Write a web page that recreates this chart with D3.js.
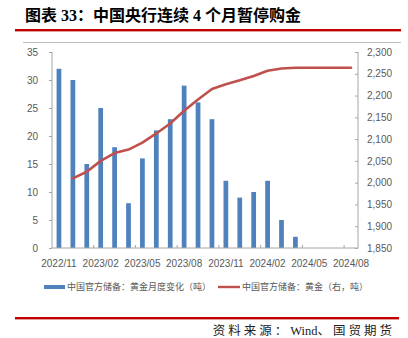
<!DOCTYPE html>
<html>
<head>
<meta charset="utf-8">
<script src="https://cdn.jsdelivr.net/npm/d3@7/dist/d3.min.js"></script>
<style>
  html, body { margin: 0; padding: 0; background: #fff; }
  svg { display: block; }
</style>
</head>
<body>
<svg id="chart" width="408" height="338"></svg>
<script>
// Months, Nov 2022 – Aug 2024
const months = ["2022/11","2022/12","2023/01","2023/02","2023/03","2023/04","2023/05","2023/06",
  "2023/07","2023/08","2023/09","2023/10","2023/11","2023/12","2024/01","2024/02",
  "2024/03","2024/04","2024/05","2024/06","2024/07","2024/08"];
// Monthly change in official gold holdings (tonnes)
const monthlyChange = [32,30,15,25,18,8,16,21,23,29,26,23,12,9,10,12,5,2,0,0,0,0];
// Total official gold holdings (tonnes); no value for the first month
const holdings = [null,2010,2025,2050,2068,2076,2092,2113,2136,2165,2191,2215,2226,2235,
  2245,2257,2262,2264,2264,2264,2264,2264];
const xTickLabels = ["2022/11","2023/02","2023/05","2023/08","2023/11","2024/02","2024/05","2024/08"];
const leftTicks = [0,5,10,15,20,25,30,35];
const rightTicks = [1850,1900,1950,2000,2050,2100,2150,2200,2250,2300];

const title = "图表 33：中国央行连续 4 个月暂停购金";
const legendBar = "中国官方储备：黄金月度变化（吨）";
const legendLine = "中国官方储备：黄金（右，吨）";
// Source line pieces: CJK parts are letter-spaced, the Latin word is not
const sourceParts = [["资料来源：", true], ["Wind", false], ["、国贸期货", true]];

const svg = d3.select("#chart");
const plot = { left: 52, right: 358, top: 52, bottom: 248 };
const BLUE = "#4F81BD", RED = "#C0504D", AXIS = "#A6A6A6", LABEL = "#595959";
const tickFont = "'Liberation Sans Narrow','Liberation Sans',Arial,sans-serif";

// Header
svg.append("text")
  .attr("x", 25).attr("y", 21)
  .attr("font-family", "'Liberation Serif','Noto Sans CJK SC',serif")
  .attr("font-weight", "bold").attr("font-size", 16).attr("fill", "#000")
  .text(title);
svg.append("rect").attr("x", 15).attr("y", 29).attr("width", 386).attr("height", 2.4).attr("fill", "#C00000");
svg.append("rect").attr("x", 23).attr("y", 42).attr("width", 378).attr("height", 1).attr("fill", "#BFBFBF");

// Scales
const x = d3.scaleBand().domain(months).range([plot.left, plot.right])
  .paddingInner(0.66).paddingOuter(0.33);
const yL = d3.scaleLinear().domain([0, 35]).range([plot.bottom, plot.top]);
const yR = d3.scaleLinear().domain([1850, 2300]).range([plot.bottom, plot.top]);

// Bars
svg.append("g").selectAll("rect")
  .data(months.map((m, i) => ({ m, v: monthlyChange[i] })).filter(d => d.v > 0))
  .join("rect")
  .attr("x", d => x(d.m)).attr("width", x.bandwidth())
  .attr("y", d => yL(d.v)).attr("height", d => yL(0) - yL(d.v))
  .attr("fill", BLUE);

// Holdings line
const lineData = months.map((m, i) => ({ m, v: holdings[i] })).filter(d => d.v != null);
svg.append("path")
  .datum(lineData)
  .attr("fill", "none").attr("stroke", RED).attr("stroke-width", 2.6)
  .attr("stroke-linejoin", "round").attr("stroke-linecap", "round")
  .attr("d", d3.line().x(d => x(d.m) + x.bandwidth() / 2).y(d => yR(d.v)));

// Left axis
const gL = svg.append("g").attr("transform", `translate(${plot.left},0)`)
  .call(d3.axisLeft(yL).tickValues(leftTicks).tickSize(3).tickPadding(11));
// Right axis
const gR = svg.append("g").attr("transform", `translate(${plot.right},0)`)
  .call(d3.axisRight(yR).tickValues(rightTicks).tickSize(-3).tickPadding(9).tickFormat(d3.format(",")));
[gL, gR].forEach(g => {
  g.select(".domain").attr("stroke", AXIS).attr("d", `M0,${plot.bottom}V${plot.top}`);
  g.selectAll(".tick line").attr("stroke", AXIS);
  g.selectAll(".tick text").attr("fill", LABEL).attr("font-family", tickFont).attr("font-size", 10);
});

// Bottom axis
const gX = svg.append("g");
gX.append("line").attr("x1", plot.left).attr("x2", plot.right)
  .attr("y1", plot.bottom).attr("y2", plot.bottom).attr("stroke", AXIS);
const gap = x.step() - x.bandwidth();
gX.selectAll("line.tk")
  .data(months.filter((m, i) => i > 0 && i % 3 === 0))
  .join("line").attr("class", "tk")
  .attr("x1", d => x(d) - gap / 2).attr("x2", d => x(d) - gap / 2)
  .attr("y1", plot.bottom).attr("y2", plot.bottom - 3).attr("stroke", AXIS);
gX.selectAll("text")
  .data(xTickLabels)
  .join("text")
  .attr("x", d => x(d) + x.bandwidth() / 2).attr("y", 266.5)
  .attr("text-anchor", "middle")
  .attr("font-family", tickFont).attr("font-size", 10).attr("fill", LABEL)
  .text(d => d);

// Legend
const legFont = "'Noto Sans CJK SC',sans-serif";
svg.append("rect").attr("x", 44).attr("y", 285).attr("width", 21).attr("height", 4).attr("fill", BLUE);
svg.append("text").attr("x", 67).attr("y", 290.3)
  .attr("font-family", legFont).attr("font-size", 9).attr("fill", LABEL).text(legendBar);
svg.append("line").attr("x1", 218).attr("x2", 240).attr("y1", 287).attr("y2", 287)
  .attr("stroke", RED).attr("stroke-width", 2.4);
svg.append("text").attr("x", 242).attr("y", 290.3)
  .attr("font-family", legFont).attr("font-size", 9).attr("fill", LABEL).text(legendLine);

// Footer
svg.append("rect").attr("x", 15).attr("y", 317).attr("width", 384).attr("height", 2.4).attr("fill", "#C00000");
const src = svg.append("text").attr("x", 395).attr("y", 335)
  .attr("text-anchor", "end")
  .attr("font-family", "'Liberation Serif','Noto Sans CJK SC',serif")
  .attr("font-size", 12.5).attr("fill", "#222");
sourceParts.forEach(([t, spaced]) => {
  src.append("tspan").attr("letter-spacing", spaced ? 3 : 0).text(t);
});
</script>
</body>
</html>
